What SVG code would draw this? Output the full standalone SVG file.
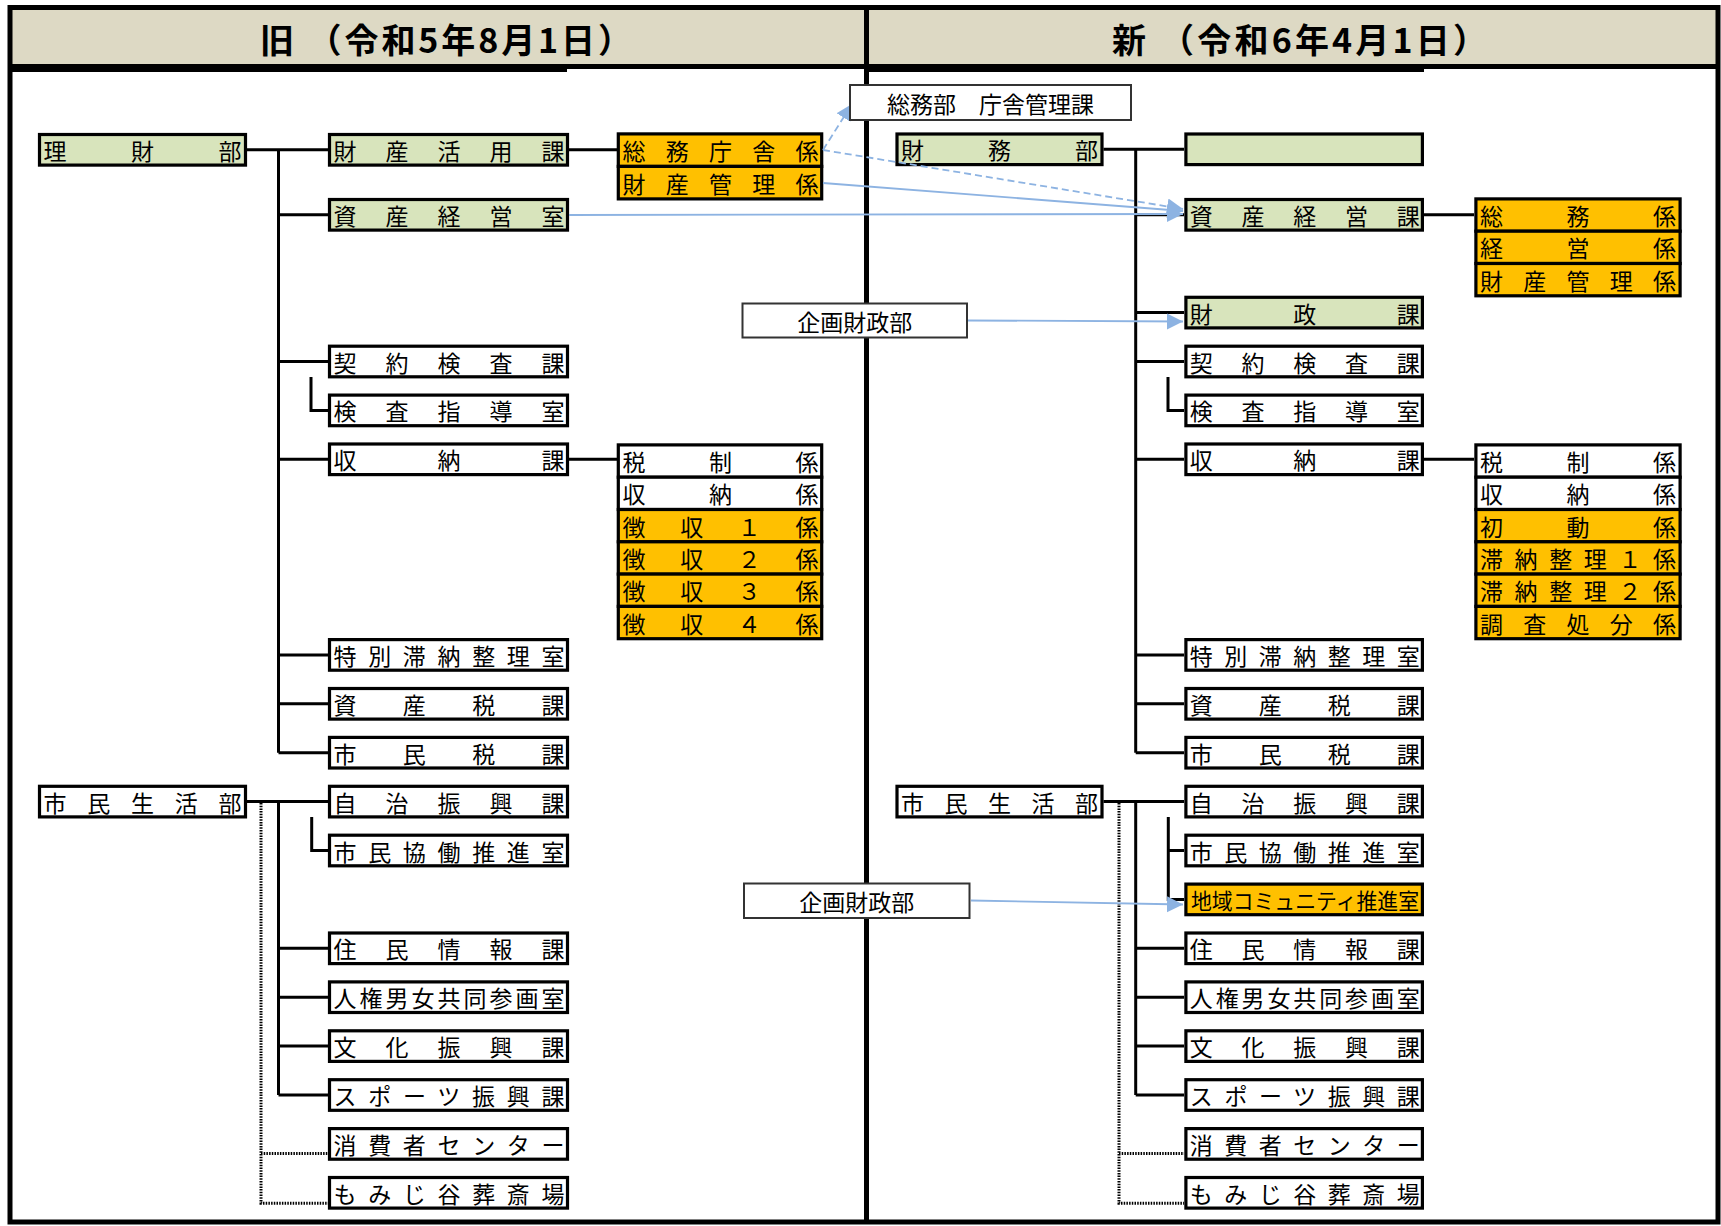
<svg xmlns="http://www.w3.org/2000/svg" width="1721" height="1226" viewBox="0 0 1721 1226">
<style>
.bx{stroke:#000;stroke-width:3.2}
.g{fill:#D8E4BC}.o{fill:#FFC000}.w{fill:#FFFFFF}
.t{font-family:"Noto Sans CJK JP","Noto Sans CJK SC",sans-serif;font-size:23px;fill:#000;dominant-baseline:central}
.h{font-family:"Noto Sans CJK JP","Noto Sans CJK SC",sans-serif;font-size:34px;font-weight:bold;fill:#000;dominant-baseline:central}
.ln{stroke:#000;stroke-width:3;fill:none}
.dt{stroke:#000;stroke-width:3;fill:none;stroke-dasharray:1.5 1.2}
.ar{stroke:#8DB3E2;stroke-width:1.8;fill:none;marker-end:url(#ah)}
.ds{stroke-dasharray:7 4}
.lb{fill:#fff;stroke:#333;stroke-width:2}
.lt{font-family:"Noto Sans CJK JP","Noto Sans CJK SC",sans-serif;font-size:23px;fill:#000;dominant-baseline:central;text-anchor:middle}
</style>
<defs>
<marker id="ah" markerUnits="userSpaceOnUse" markerWidth="18" markerHeight="18" refX="16" refY="8" orient="auto">
<path d="M0,0 L16,8 L0,16 z" fill="#8DB3E2"/>
</marker>
</defs>
<rect x="0" y="0" width="1721" height="1226" fill="#fff"/>
<g id="frame">
<rect x="10" y="10" width="1708" height="54" fill="#DDD9C4"/>
<rect x="10" y="7.5" width="1708" height="1214.5" fill="none" stroke="#000" stroke-width="5"/>
<rect x="8" y="64" width="1712" height="5" fill="#000"/>
<rect x="8" y="69" width="559" height="3" fill="#000"/>
<rect x="866" y="69" width="558" height="3" fill="#000"/>
<line x1="866.5" y1="5" x2="866.5" y2="1224" stroke="#000" stroke-width="5"/>
<text class="h" x="260" y="38" textLength="372" lengthAdjust="spacing">旧 （令和5年8月1日）</text>
<text class="h" x="1112" y="38" textLength="375" lengthAdjust="spacing">新 （令和6年4月1日）</text>
</g>
<g id="connectors">
<path class="ln" d="M247,149.8H328M569,149.8H617M278.5,149.8V752.7M278.5,214.8H328M278.5,361.5H328M278.5,459.3H328M278.5,654.9H328M278.5,703.8H328M278.5,752.7H328M311,377V410.4H328M569,459.3H617"/>
<path class="ln" d="M247,801.6H328M278.5,801.6V1095M278.5,948.3H328M278.5,997.2H328M278.5,1046.1H328M278.5,1095H328M311.7,817V850.5H328"/>
<path class="dt" d="M261,803V1203.3H328M261,1153.5H328"/>
<path class="ln" d="M1103.5,149.3H1184M1135.7,149.3V752.7M1135.7,214.8H1184M1135.7,312.6H1184M1135.7,361.5H1184M1135.7,459.3H1184M1135.7,654.9H1184M1135.7,703.8H1184M1135.7,752.7H1184M1168,377V410.4H1184M1424,214.8H1474M1424,459.3H1474"/>
<path class="ln" d="M1103.5,801.6H1184M1135.7,801.6V1095M1135.7,948.3H1184M1135.7,997.2H1184M1135.7,1046.1H1184M1135.7,1095H1184M1168.3,817V899.4H1184M1168.3,850.5H1184"/>
<path class="dt" d="M1119,803V1203.3H1184M1119,1153.5H1184"/>
</g>
<g id="old-bu">
<g id="o-rizaibu"><rect class="bx g" x="39.5" y="134.5" width="206" height="30.6"/><text class="t" x="43.5" y="149.8" textLength="198" lengthAdjust="spacing">理財部</text></g>
<g id="o-shiminseikatsubu"><rect class="bx w" x="39.5" y="786.3" width="206" height="30.6"/><text class="t" x="43.5" y="801.6" textLength="198" lengthAdjust="spacing">市民生活部</text></g>
</g>
<g id="old-ka">
<g id="o-k1"><rect class="bx g" x="329.5" y="134.5" width="238" height="30.6"/><text class="t" x="333.5" y="149.8" textLength="231" lengthAdjust="spacing">財産活用課</text></g>
<g id="o-k2"><rect class="bx g" x="329.5" y="199.5" width="238" height="30.6"/><text class="t" x="333.5" y="214.8" textLength="231" lengthAdjust="spacing">資産経営室</text></g>
<g id="o-k3"><rect class="bx w" x="329.5" y="346.2" width="238" height="30.6"/><text class="t" x="333.5" y="361.5" textLength="231" lengthAdjust="spacing">契約検査課</text></g>
<g id="o-k4"><rect class="bx w" x="329.5" y="395.1" width="238" height="30.6"/><text class="t" x="333.5" y="410.4" textLength="231" lengthAdjust="spacing">検査指導室</text></g>
<g id="o-k5"><rect class="bx w" x="329.5" y="444" width="238" height="30.6"/><text class="t" x="333.5" y="459.3" textLength="231" lengthAdjust="spacing">収納課</text></g>
<g id="o-k6"><rect class="bx w" x="329.5" y="639.6" width="238" height="30.6"/><text class="t" x="333.5" y="654.9" textLength="231" lengthAdjust="spacing">特別滞納整理室</text></g>
<g id="o-k7"><rect class="bx w" x="329.5" y="688.5" width="238" height="30.6"/><text class="t" x="333.5" y="703.8" textLength="231" lengthAdjust="spacing">資産税課</text></g>
<g id="o-k8"><rect class="bx w" x="329.5" y="737.4" width="238" height="30.6"/><text class="t" x="333.5" y="752.7" textLength="231" lengthAdjust="spacing">市民税課</text></g>
<g id="o-k9"><rect class="bx w" x="329.5" y="786.3" width="238" height="30.6"/><text class="t" x="333.5" y="801.6" textLength="231" lengthAdjust="spacing">自治振興課</text></g>
<g id="o-k10"><rect class="bx w" x="329.5" y="835.2" width="238" height="30.6"/><text class="t" x="333.5" y="850.5" textLength="231" lengthAdjust="spacing">市民協働推進室</text></g>
<g id="o-k11"><rect class="bx w" x="329.5" y="933" width="238" height="30.6"/><text class="t" x="333.5" y="948.3" textLength="231" lengthAdjust="spacing">住民情報課</text></g>
<g id="o-k12"><rect class="bx w" x="329.5" y="981.9" width="238" height="30.6"/><text class="t" x="333.5" y="997.2" textLength="231" lengthAdjust="spacing">人権男女共同参画室</text></g>
<g id="o-k13"><rect class="bx w" x="329.5" y="1030.8" width="238" height="30.6"/><text class="t" x="333.5" y="1046.1" textLength="231" lengthAdjust="spacing">文化振興課</text></g>
<g id="o-k14"><rect class="bx w" x="329.5" y="1079.7" width="238" height="30.6"/><text class="t" x="333.5" y="1095" textLength="231" lengthAdjust="spacing">スポーツ振興課</text></g>
<g id="o-k15"><rect class="bx w" x="329.5" y="1128.6" width="238" height="30.6"/><text class="t" x="333.5" y="1143.9" textLength="231" lengthAdjust="spacing">消費者センター</text></g>
<g id="o-k16"><rect class="bx w" x="329.5" y="1177.5" width="238" height="30.6"/><text class="t" x="333.5" y="1192.8" textLength="231" lengthAdjust="spacing">もみじ谷葬斎場</text></g>
</g>
<g id="old-kakari">
<g id="o-s1"><rect class="bx o" x="618.3" y="133.9" width="203.4" height="32.5"/><text class="t" x="622.5" y="150.2" textLength="196" lengthAdjust="spacing">総務庁舎係</text></g>
<g id="o-s2"><rect class="bx o" x="618.3" y="166.4" width="203.4" height="32.5"/><text class="t" x="622.5" y="182.7" textLength="196" lengthAdjust="spacing">財産管理係</text></g>
<g id="o-s3"><rect class="bx w" x="618.3" y="444.9" width="203.4" height="32.3"/><text class="t" x="622.5" y="461" textLength="196" lengthAdjust="spacing">税制係</text></g>
<g id="o-s4"><rect class="bx w" x="618.3" y="477.2" width="203.4" height="32.3"/><text class="t" x="622.5" y="493.3" textLength="196" lengthAdjust="spacing">収納係</text></g>
<g id="o-s5"><rect class="bx o" x="618.3" y="509.5" width="203.4" height="32.3"/><text class="t" x="622.5" y="525.6" textLength="196" lengthAdjust="spacing">徴収１係</text></g>
<g id="o-s6"><rect class="bx o" x="618.3" y="541.8" width="203.4" height="32.3"/><text class="t" x="622.5" y="557.9" textLength="196" lengthAdjust="spacing">徴収２係</text></g>
<g id="o-s7"><rect class="bx o" x="618.3" y="574.1" width="203.4" height="32.3"/><text class="t" x="622.5" y="590.2" textLength="196" lengthAdjust="spacing">徴収３係</text></g>
<g id="o-s8"><rect class="bx o" x="618.3" y="606.4" width="203.4" height="32.3"/><text class="t" x="622.5" y="622.5" textLength="196" lengthAdjust="spacing">徴収４係</text></g>
</g>
<g id="new-bu">
<g id="n-zaimubu"><rect class="bx g" x="897" y="134" width="205" height="30.6"/><text class="t" x="901" y="149.3" textLength="197" lengthAdjust="spacing">財務部</text></g>
<g id="n-shiminseikatsubu"><rect class="bx w" x="897" y="786.3" width="205" height="30.6"/><text class="t" x="901" y="801.6" textLength="197" lengthAdjust="spacing">市民生活部</text></g>
</g>
<g id="new-ka">
<g id="n-k0"><rect class="bx g" x="1185.9" y="134" width="236.5" height="30.6"/></g>
<g id="n-k1"><rect class="bx g" x="1185.9" y="199.5" width="236.5" height="30.6"/><text class="t" x="1189.8" y="214.8" textLength="230" lengthAdjust="spacing">資産経営課</text></g>
<g id="n-k2"><rect class="bx g" x="1185.9" y="297.3" width="236.5" height="30.6"/><text class="t" x="1189.8" y="312.6" textLength="230" lengthAdjust="spacing">財政課</text></g>
<g id="n-k3"><rect class="bx w" x="1185.9" y="346.2" width="236.5" height="30.6"/><text class="t" x="1189.8" y="361.5" textLength="230" lengthAdjust="spacing">契約検査課</text></g>
<g id="n-k4"><rect class="bx w" x="1185.9" y="395.1" width="236.5" height="30.6"/><text class="t" x="1189.8" y="410.4" textLength="230" lengthAdjust="spacing">検査指導室</text></g>
<g id="n-k5"><rect class="bx w" x="1185.9" y="444" width="236.5" height="30.6"/><text class="t" x="1189.8" y="459.3" textLength="230" lengthAdjust="spacing">収納課</text></g>
<g id="n-k6"><rect class="bx w" x="1185.9" y="639.6" width="236.5" height="30.6"/><text class="t" x="1189.8" y="654.9" textLength="230" lengthAdjust="spacing">特別滞納整理室</text></g>
<g id="n-k7"><rect class="bx w" x="1185.9" y="688.5" width="236.5" height="30.6"/><text class="t" x="1189.8" y="703.8" textLength="230" lengthAdjust="spacing">資産税課</text></g>
<g id="n-k8"><rect class="bx w" x="1185.9" y="737.4" width="236.5" height="30.6"/><text class="t" x="1189.8" y="752.7" textLength="230" lengthAdjust="spacing">市民税課</text></g>
<g id="n-k9"><rect class="bx w" x="1185.9" y="786.3" width="236.5" height="30.6"/><text class="t" x="1189.8" y="801.6" textLength="230" lengthAdjust="spacing">自治振興課</text></g>
<g id="n-k10"><rect class="bx w" x="1185.9" y="835.2" width="236.5" height="30.6"/><text class="t" x="1189.8" y="850.5" textLength="230" lengthAdjust="spacing">市民協働推進室</text></g>
<g id="n-k11"><rect class="bx o" x="1185.9" y="884.1" width="236.5" height="30.6"/><text class="t" x="1191" y="899.4" textLength="228" lengthAdjust="spacingAndGlyphs" style="font-size:21.5px">地域コミュニティ推進室</text></g>
<g id="n-k12"><rect class="bx w" x="1185.9" y="933" width="236.5" height="30.6"/><text class="t" x="1189.8" y="948.3" textLength="230" lengthAdjust="spacing">住民情報課</text></g>
<g id="n-k13"><rect class="bx w" x="1185.9" y="981.9" width="236.5" height="30.6"/><text class="t" x="1189.8" y="997.2" textLength="230" lengthAdjust="spacing">人権男女共同参画室</text></g>
<g id="n-k14"><rect class="bx w" x="1185.9" y="1030.8" width="236.5" height="30.6"/><text class="t" x="1189.8" y="1046.1" textLength="230" lengthAdjust="spacing">文化振興課</text></g>
<g id="n-k15"><rect class="bx w" x="1185.9" y="1079.7" width="236.5" height="30.6"/><text class="t" x="1189.8" y="1095" textLength="230" lengthAdjust="spacing">スポーツ振興課</text></g>
<g id="n-k16"><rect class="bx w" x="1185.9" y="1128.6" width="236.5" height="30.6"/><text class="t" x="1189.8" y="1143.9" textLength="230" lengthAdjust="spacing">消費者センター</text></g>
<g id="n-k17"><rect class="bx w" x="1185.9" y="1177.5" width="236.5" height="30.6"/><text class="t" x="1189.8" y="1192.8" textLength="230" lengthAdjust="spacing">もみじ谷葬斎場</text></g>
</g>
<g id="new-kakari">
<g id="n-s1"><rect class="bx o" x="1475.9" y="198.9" width="204.2" height="32.3"/><text class="t" x="1480" y="215" textLength="196" lengthAdjust="spacing">総務係</text></g>
<g id="n-s2"><rect class="bx o" x="1475.9" y="231.2" width="204.2" height="32.3"/><text class="t" x="1480" y="247.3" textLength="196" lengthAdjust="spacing">経営係</text></g>
<g id="n-s3"><rect class="bx o" x="1475.9" y="263.5" width="204.2" height="32.3"/><text class="t" x="1480" y="279.6" textLength="196" lengthAdjust="spacing">財産管理係</text></g>
<g id="n-s4"><rect class="bx w" x="1475.9" y="444.9" width="204.2" height="32.3"/><text class="t" x="1480" y="461" textLength="196" lengthAdjust="spacing">税制係</text></g>
<g id="n-s5"><rect class="bx w" x="1475.9" y="477.2" width="204.2" height="32.3"/><text class="t" x="1480" y="493.3" textLength="196" lengthAdjust="spacing">収納係</text></g>
<g id="n-s6"><rect class="bx o" x="1475.9" y="509.5" width="204.2" height="32.3"/><text class="t" x="1480" y="525.6" textLength="196" lengthAdjust="spacing">初動係</text></g>
<g id="n-s7"><rect class="bx o" x="1475.9" y="541.8" width="204.2" height="32.3"/><text class="t" x="1480" y="557.9" textLength="196" lengthAdjust="spacing">滞納整理１係</text></g>
<g id="n-s8"><rect class="bx o" x="1475.9" y="574.1" width="204.2" height="32.3"/><text class="t" x="1480" y="590.2" textLength="196" lengthAdjust="spacing">滞納整理２係</text></g>
<g id="n-s9"><rect class="bx o" x="1475.9" y="606.4" width="204.2" height="32.3"/><text class="t" x="1480" y="622.5" textLength="196" lengthAdjust="spacing">調査処分係</text></g>
</g>
<g id="transfer-arrows">
<path class="ar ds" d="M823,150L852,104"/>
<path class="ar ds" d="M823,150L1183,209"/>
<path class="ar" d="M823,183L1183,211"/>
<path class="ar" d="M569,215L1183,214"/>
<path class="ar" d="M968,320.5L1183,321.5"/>
<path class="ar" d="M971,900.5L1183,904.5"/>
</g>
<g id="label-soumubu"><rect class="lb" x="850" y="85" width="281" height="35"/><text class="lt" x="990.5" y="102.5">総務部　庁舎管理課</text></g>
<g id="label-kikaku1"><rect class="lb" x="742.5" y="303.5" width="224.5" height="34"/><text class="lt" x="854.7" y="320.5">企画財政部</text></g>
<g id="label-kikaku2"><rect class="lb" x="744" y="883.5" width="225.5" height="34.5"/><text class="lt" x="856.8" y="900.7">企画財政部</text></g>
</svg>
